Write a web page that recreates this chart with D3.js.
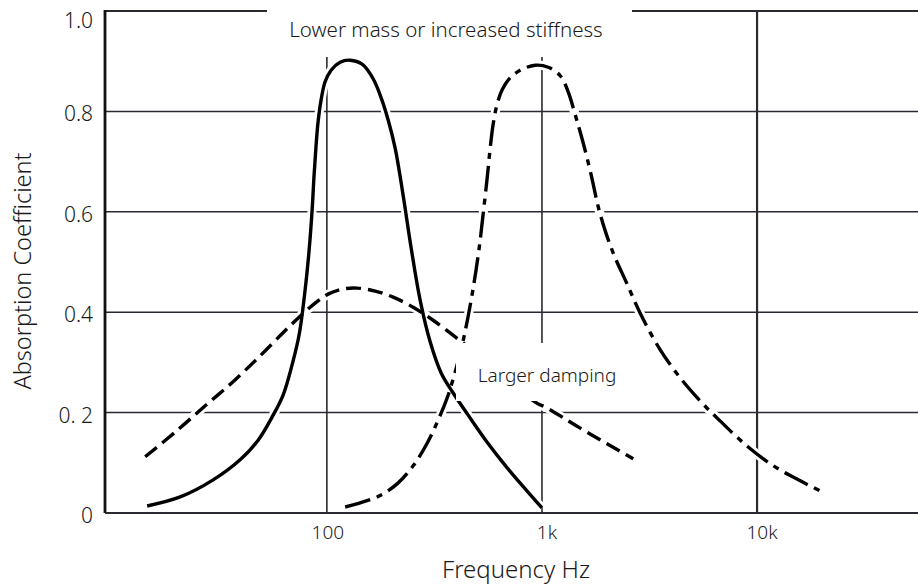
<!DOCTYPE html>
<meta charset="utf-8">
<style>
  body { margin: 0; background: #fff; }
  text { font-family: "Noto Sans", "Open Sans", sans-serif; font-weight: 300; fill: #1a1a1a; }
</style>
<svg width="918" height="586"></svg>
<script src="https://d3js.org/d3.v7.min.js"></script>
<script>

    // values
    var freqSolid = [14.6, 20.8, 29.6, 39.5, 47.9, 55.6, 62.6, 68.9, 74.3, 79.2, 82.7, 85.4, 87.2, 89.1, 91.0, 94.0, 98.1, 104.6, 115.2, 128.2,
                     145.8, 164.1, 178.8, 192.7, 207.7, 226.2, 246.5, 271.4, 302.1, 339.8, 386.5, 453.8, 556.1, 689.1, 835.7, 1000];
    var valSolid  = [0.014, 0.032, 0.066, 0.106, 0.145, 0.191, 0.235, 0.295, 0.355, 0.444, 0.524, 0.604, 0.673, 0.733, 0.779, 0.823, 0.859, 0.882, 0.898, 0.902,
                     0.894, 0.865, 0.827, 0.783, 0.727, 0.633, 0.528, 0.424, 0.341, 0.279, 0.239, 0.195, 0.141, 0.090, 0.048, 0.010];

    var freqDamped = [14.3, 19.7, 27.1, 37.4, 50.0, 63.9, 75.1, 88.2, 101.3, 117.7, 138.2, 167.7, 203.3, 251.8, 311.9, 416.6, 574.5, 930, 1057, 1506, 2656];
    var valDamped  = [0.112, 0.161, 0.213, 0.265, 0.317, 0.363, 0.392, 0.418, 0.436, 0.446, 0.448, 0.442, 0.430, 0.410, 0.384, 0.343, 0.295, 0.221, 0.209, 0.169, 0.108];

    var freqStiff = [121.6, 171.2, 212.1, 251.8, 292.5, 329.1, 362.3, 394.9, 425.7, 453.8, 484.0, 510.6, 532.9, 556.1, 574.5, 593.2, 619.2, 653.1, 704.0, 792.0, 930,
                     1069, 1216, 1324, 1428, 1555, 1694, 1826, 1989, 2191, 2465, 2862, 3547, 4395, 5446, 6747, 9005, 11900, 15890, 20100];
    var valStiff  = [0.012, 0.032, 0.058, 0.094, 0.139, 0.185, 0.229, 0.281, 0.335, 0.392, 0.460, 0.528, 0.596, 0.667, 0.727, 0.775, 0.815, 0.843, 0.865, 0.882, 0.892,
                     0.888, 0.871, 0.839, 0.793, 0.737, 0.673, 0.610, 0.556, 0.508, 0.460, 0.398, 0.325, 0.269, 0.223, 0.183, 0.133, 0.094, 0.064, 0.042];

    var xTicks = [100, 1000, 10000];
    var xTickLabels = ["100", "1k", "10k"];
    var yTicks = [0, 0.2, 0.4, 0.6, 0.8, 1.0];
    var yTickLabels = ["0", "0. 2", "0.4", "0.6", "0.8", "1.0"];

    var svg = d3.select("svg"),
        width = +svg.attr("width"),
        height = +svg.attr("height");

    var x = d3.scaleLog().domain([9.3, 56000]).range([105, 918]);
    var y = d3.scaleLinear().domain([0, 1]).range([513, 11]);

    var grid = svg.append("g").attr("stroke", "#2a2a33").attr("fill", "none");

    // horizontal rules
    grid.selectAll(".h").data(yTicks.slice(1)).enter().append("line")
        .attr("x1", x(9.3)).attr("x2", x(56000))
        .attr("y1", function(d) { return y(d); })
        .attr("y2", function(d) { return y(d); })
        .attr("stroke-width", function(d) { return d === 1 ? 2 : 1.5; });

    // vertical rules at the decades
    grid.selectAll(".v").data(xTicks).enter().append("line")
        .attr("x1", function(d) { return x(d); })
        .attr("x2", function(d) { return x(d); })
        .attr("y1", y(1)).attr("y2", y(0))
        .attr("stroke-width", function(d) { return d === 10000 ? 2.2 : 1.6; });

    // frame: left side and baseline
    grid.append("line").attr("x1", x(9.3)).attr("x2", x(9.3)).attr("y1", y(1) - 1).attr("y2", y(0))
        .attr("stroke", "#111").attr("stroke-width", 2.8);
    grid.append("line").attr("x1", x(9.3)).attr("x2", x(56000)).attr("y1", y(0)).attr("y2", y(0))
        .attr("stroke-width", 2.2);

    var line = d3.line()
        .x(function(d) { return x(d[0]); })
        .y(function(d) { return y(d[1]); })
        .curve(d3.curveCatmullRom.alpha(0.5));

    var curves = [
        { pts: d3.zip(freqSolid, valSolid), dash: null },
        { pts: d3.zip(freqDamped, valDamped), dash: "15,7" },
        { pts: d3.zip(freqStiff, valStiff), dash: "26,7,6,7" }
    ];

    var g = svg.append("g").attr("fill", "none");
    // white halo first, so the rules break where a curve crosses them
    g.selectAll(".halo").data(curves).enter().append("path")
        .attr("d", function(d) { return line(d.pts); })
        .attr("stroke", "#fff").attr("stroke-width", 9);
    g.selectAll(".curve").data(curves).enter().append("path")
        .attr("d", function(d) { return line(d.pts); })
        .attr("stroke", "#000")
        .attr("stroke-width", 3.4)
        .attr("stroke-dasharray", function(d) { return d.dash; });

    // label boxes cover the rules behind them
    svg.append("rect").attr("x", 267).attr("y", 0).attr("width", 365).attr("height", 57).attr("fill", "#fff");
    svg.append("rect").attr("x", 456).attr("y", 343).attr("width", 180).attr("height", 58).attr("fill", "#fff");

    svg.append("text").attr("x", 446).attr("y", 37).attr("text-anchor", "middle")
        .style("font-size", "20.5px").text("Lower mass or increased stiffness");
    svg.append("text").attr("x", 547).attr("y", 382).attr("text-anchor", "middle")
        .style("font-size", "19px").text("Larger damping");

    // tick labels
    svg.selectAll(".yl").data(yTicks).enter().append("text")
        .attr("x", 93).attr("y", function(d) { return Math.max(y(d) + 10, 28); })
        .attr("text-anchor", "end")
        .style("font-size", "21px")
        .text(function(d, i) { return yTickLabels[i]; });

    svg.selectAll(".xl").data(xTicks).enter().append("text")
        .attr("x", function(d, i) { return x(d) + (i ? 5 : 1); }).attr("y", 539)
        .attr("text-anchor", "middle")
        .style("font-size", "19px")
        .text(function(d, i) { return xTickLabels[i]; });

    svg.append("text").attr("x", 516).attr("y", 578).attr("text-anchor", "middle")
        .style("font-size", "24px").text("Frequency Hz");
    svg.append("text").attr("transform", "translate(31,271) rotate(-90)").attr("text-anchor", "middle")
        .style("font-size", "23.5px").text("Absorption Coefficient");
</script>
